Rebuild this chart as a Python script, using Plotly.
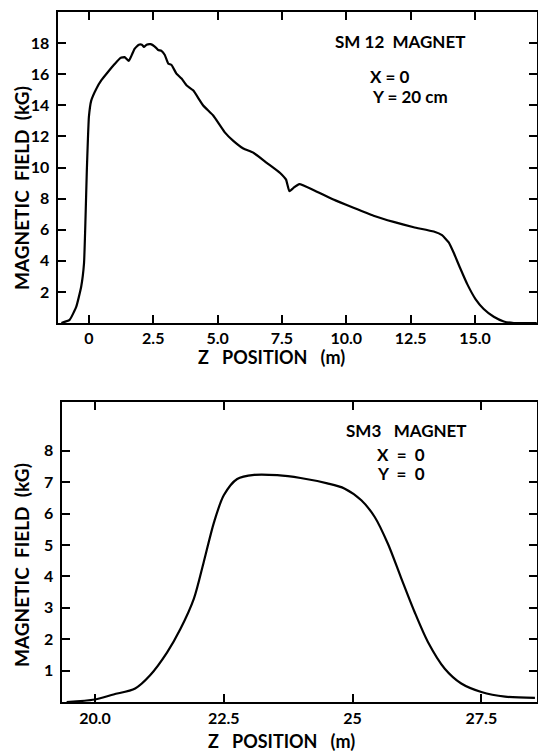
import plotly.graph_objects as go

# ---- SM12 magnet (top panel) ----
sm12_z = [-1.07, -0.75, -0.49, -0.30, -0.19, -0.13, -0.08, -0.04, 0.0, 0.09,
          0.29, 0.48, 0.74, 1.0, 1.23, 1.39, 1.55, 1.67, 1.78, 1.94,
          2.06, 2.14, 2.24, 2.40, 2.56, 2.69, 2.82, 2.95, 3.08, 3.21,
          3.40, 3.60, 3.79, 4.05, 4.44, 4.83, 5.28, 5.61, 6.0, 6.39,
          6.91, 7.43, 7.66, 7.79, 7.94, 8.18, 8.72, 9.5, 10.28, 11.06,
          11.84, 12.62, 13.4, 13.72, 13.98, 14.17, 14.44, 14.7, 15.02, 15.34,
          15.73, 16.12, 16.51, 17.4]
sm12_b = [0.0, 0.2, 1.05, 2.33, 3.83, 6.83, 9.83, 11.75, 13.25, 14.3,
          15.07, 15.6, 16.14, 16.65, 17.05, 17.1, 16.85, 17.25, 17.65, 17.9,
          17.9, 17.75, 17.9, 17.93, 17.78, 17.56, 17.5, 17.23, 16.69, 16.59,
          16.04, 15.72, 15.29, 14.96, 13.99, 13.34, 12.26, 11.71, 11.22, 10.95,
          10.3, 9.65, 9.22, 8.47, 8.68, 8.93, 8.56, 7.94, 7.41, 6.9,
          6.5, 6.16, 5.88, 5.65, 5.18, 4.53, 3.47, 2.5, 1.54, 0.9,
          0.4, 0.1, 0.0, 0.0]

# ---- SM3 magnet (bottom panel) ----
sm3_z = [19.45, 20.0, 20.36, 20.78, 21.07, 21.40, 21.66, 21.92, 22.11, 22.31,
         22.5, 22.76, 23.09, 23.54, 23.99, 24.51, 24.84, 25.17, 25.43, 25.69,
         25.94, 26.2, 26.46, 26.79, 27.11, 27.5, 27.96, 28.54]
sm3_b = [0.0, 0.08, 0.24, 0.43, 0.85, 1.58, 2.33, 3.29, 4.45, 5.72,
         6.58, 7.10, 7.23, 7.22, 7.13, 6.96, 6.8, 6.42, 5.89, 5.02,
         3.96, 2.88, 1.92, 1.06, 0.59, 0.32, 0.17, 0.13]

top_xticks = [0, 2.5, 5.0, 7.5, 10.0, 12.5, 15.0]
top_xtext = ["0", "2.5", "5.0", "7.5", "10.0", "12.5", "15.0"]
top_yticks = [2, 4, 6, 8, 10, 12, 14, 16, 18]
bot_xticks = [20.0, 22.5, 25, 27.5]
bot_xtext = ["20.0", "22.5", "25", "27.5"]
bot_yticks = [1, 2, 3, 4, 5, 6, 7, 8]

FONT = "Lato"
W, H = 538, 752

fig = go.Figure()
fig.add_trace(go.Scatter(x=sm12_z, y=sm12_b, mode="lines", xaxis="x", yaxis="y",
                         line=dict(color="black", width=2.2, shape="spline", smoothing=0.4),
                         showlegend=False, hoverinfo="skip"))
fig.add_trace(go.Scatter(x=sm3_z, y=sm3_b, mode="lines", xaxis="x2", yaxis="y2",
                         line=dict(color="black", width=2.2, shape="spline", smoothing=0.8),
                         showlegend=False, hoverinfo="skip"))

axis_common = dict(showline=True, linecolor="black", linewidth=2, mirror="ticks",
                   ticks="inside", ticklen=8, tickwidth=2, tickcolor="black",
                   showgrid=False, zeroline=False,
                   tickfont=dict(family=FONT, size=16, color="black", weight="bold"))

fig.update_layout(
    width=W, height=H,
    margin=dict(l=0, r=0, t=0, b=0),
    paper_bgcolor="white", plot_bgcolor="white",
    xaxis=dict(domain=[57.5 / W, 537 / W], range=[-1.22, 17.41],
               tickvals=top_xticks, ticktext=top_xtext, anchor="y",
               ticklabelstandoff=0, **axis_common),
    yaxis=dict(domain=[1 - 323 / H, 1 - 12 / H], range=[0, 20],
               tickvals=top_yticks, anchor="x", ticklabelstandoff=3, **axis_common),
    xaxis2=dict(domain=[61.5 / W, 537 / W], range=[19.35, 28.58],
                tickvals=bot_xticks, ticktext=bot_xtext, anchor="y2",
                ticklabelstandoff=1, **axis_common),
    yaxis2=dict(domain=[1 - 702 / H, 1 - 402 / H], range=[0, 9.55],
                tickvals=bot_yticks, anchor="x2", ticklabelstandoff=3, **axis_common),
)

def ann(text, x, y, size=15, xanchor="center", angle=0):
    fig.add_annotation(text=text, x=x / W, y=1 - y / H, xref="paper", yref="paper",
                       showarrow=False, xanchor=xanchor, yanchor="middle",
                       textangle=angle,
                       font=dict(family=FONT, size=size, color="black", weight="bold"))

# axis titles
ann("MAGNETIC  FIELD  (kG)", 21, 188, size=19, angle=-90)
ann("MAGNETIC  FIELD  (kG)", 21, 565, size=19, angle=-90)
ann("Z   POSITION   (m)", 271, 357, size=18)
ann("Z   POSITION   (m)", 281, 741, size=18)

# panel labels
ann("SM 12  MAGNET", 400, 42, size=17)
ann("X = 0", 368, 77, size=17, xanchor="left")
ann("Y = 20 cm", 370, 97, size=17, xanchor="left")
ann("SM3   MAGNET", 406, 430, size=17)
ann("X  =  0", 401, 454, size=17)
ann("Y  =  0", 401, 473, size=17)

fig.write_html("out.html")
